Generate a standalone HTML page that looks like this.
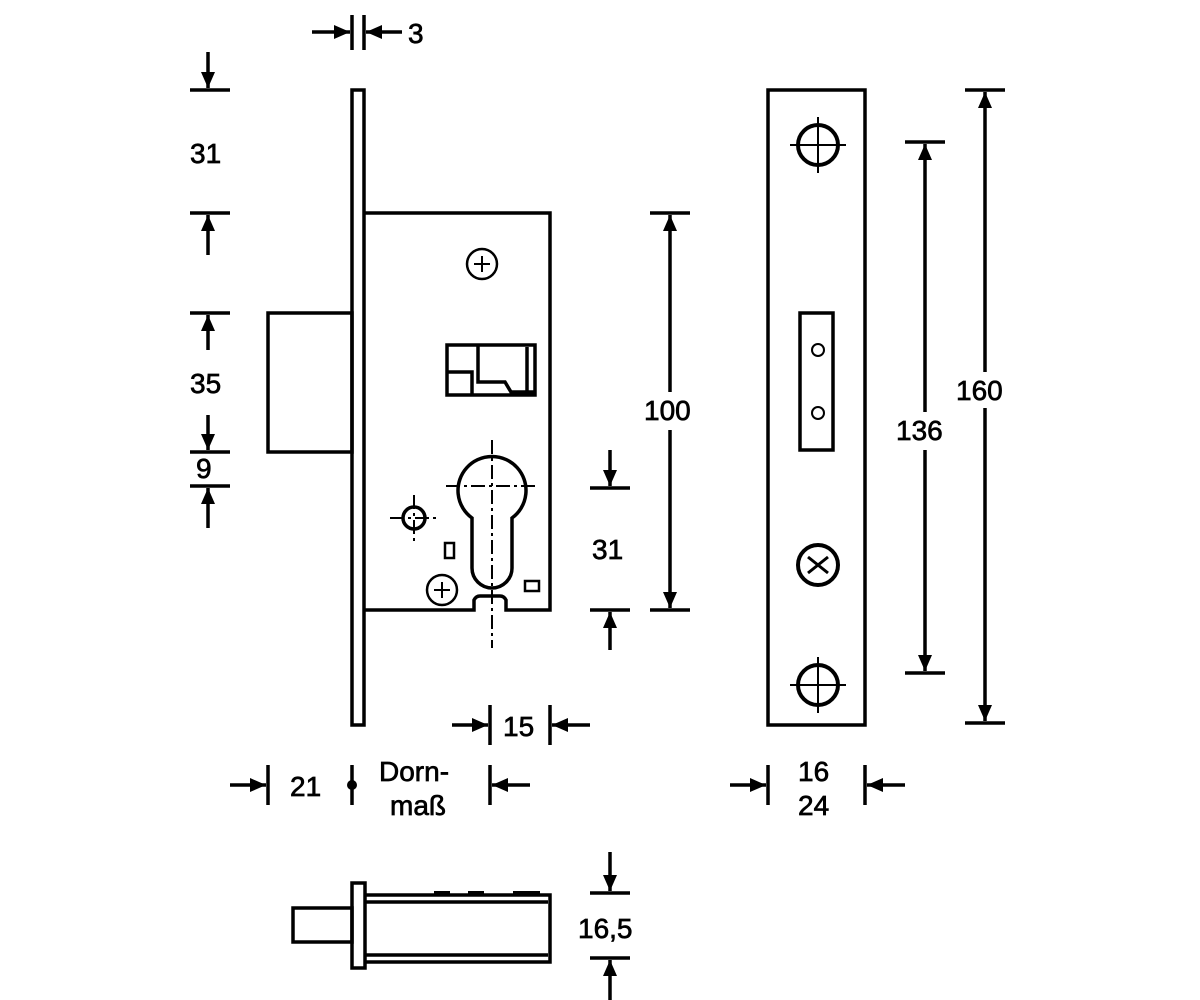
<!DOCTYPE html>
<html><head><meta charset="utf-8"><style>
html,body{margin:0;padding:0;background:#fff;}
svg{display:block;}
text{font-family:"Liberation Sans",Arial,sans-serif;font-size:28px;fill:#000;stroke:#000;stroke-width:0.7;}
</style></head><body>
<svg width="1200" height="1000" viewBox="0 0 1200 1000" xmlns="http://www.w3.org/2000/svg">
<defs>
<marker id="a" markerUnits="userSpaceOnUse" markerWidth="16" markerHeight="14" refX="16" refY="7" orient="auto"><path d="M0,0 L16,7 L0,14 z" fill="#000"/></marker>
</defs>
<g stroke="#000" stroke-width="3.5" fill="none">
<rect x="352" y="90" width="12" height="635"/>
<path d="M364,213 H550 V610 H506 V600 Q504,596 500,596 H480 Q476,596 474,600 V610 H364"/>
<rect x="268" y="313" width="84" height="139"/>
<path d="M447,345 H535 V395 H447 Z M447,372 H472 V395 M478,345 V382 H505 L511,392 H535 M527,347 V393"/>
<path d="M472,518 A34,34 0 1,1 512,518 V568 A20,20 0 0,1 472,568 Z"/>
<circle cx="414" cy="518" r="11"/>
<rect x="445" y="543" width="9" height="15" stroke-width="2.5"/>
<rect x="525" y="581" width="14" height="10" stroke-width="2.5"/>
<circle cx="482" cy="264" r="15" stroke-width="2.5"/>
<circle cx="442" cy="590" r="15" stroke-width="2.5"/>
<rect x="768" y="90" width="97" height="635"/>
<rect x="800" y="313" width="33" height="137"/>
<circle cx="818" cy="350" r="6" stroke-width="2"/>
<circle cx="818" cy="413" r="6" stroke-width="2"/>
<circle cx="818" cy="145" r="20" stroke-width="4"/>
<circle cx="818" cy="565" r="20" stroke-width="4"/>
<circle cx="818" cy="685" r="20" stroke-width="4"/>
<rect x="293" y="908" width="59" height="34"/>
<rect x="352" y="883" width="13" height="85"/>
<path d="M365,895 H550 V962 H365 M365,902 H548 M365,955 H548"/>
<path d="M434,893 H450 M468,893 H484 M513,893 H540" stroke-width="4"/>
</g>
<g stroke="#000" stroke-width="2" fill="none">
<path d="M482,256 V272 M474,264 H490"/>
<path d="M442,582 V598 M434,590 H450"/>
<path d="M790,145 H846 M818,117 V173 M790,685 H846 M818,657 V713"/>
<path d="M808,557 L828,573 M828,557 L808,573" stroke-width="3"/>
</g>
<g stroke="#000" stroke-width="2" fill="none" stroke-dasharray="14,4,3,4">
<path d="M492,440 V648 M446,486 H536 M390,518 H440 M414,495 V543"/>
</g>
<g stroke="#000" stroke-width="3.5" fill="none">
<path d="M190,90 H230 M190,213 H230 M190,313 H230 M190,452 H230 M190,486 H230"/>
<path d="M208,52 V88" marker-end="url(#a)"/>
<path d="M208,255 V215" marker-end="url(#a)"/>
<path d="M208,350 V315" marker-end="url(#a)"/>
<path d="M208,415 V450" marker-end="url(#a)"/>
<path d="M208,528 V488" marker-end="url(#a)"/>
<path d="M352,15 V50 M364,15 V50"/>
<path d="M312,32 H350" marker-end="url(#a)"/>
<path d="M402,32 H366" marker-end="url(#a)"/>
<path d="M650,213 H690 M650,610 H690"/>
<path d="M670,392 V215" marker-end="url(#a)"/>
<path d="M670,430 V608" marker-end="url(#a)"/>
<path d="M590,488 H630 M590,610 H630"/>
<path d="M610,450 V486" marker-end="url(#a)"/>
<path d="M610,650 V612" marker-end="url(#a)"/>
<path d="M905,142 H945 M905,673 H945"/>
<path d="M925,412 V144" marker-end="url(#a)"/>
<path d="M925,450 V671" marker-end="url(#a)"/>
<path d="M965,90 H1005 M965,723 H1005"/>
<path d="M985,372 V92" marker-end="url(#a)"/>
<path d="M985,408 V721" marker-end="url(#a)"/>
<path d="M490,705 V745 M550,705 V745"/>
<path d="M452,725 H488" marker-end="url(#a)"/>
<path d="M590,725 H552" marker-end="url(#a)"/>
<path d="M268,765 V805 M352,765 V805 M490,765 V805"/>
<path d="M230,785 H266" marker-end="url(#a)"/>
<path d="M530,785 H492" marker-end="url(#a)"/>
<path d="M768,765 V805 M865,765 V805"/>
<path d="M730,785 H766" marker-end="url(#a)"/>
<path d="M905,785 H867" marker-end="url(#a)"/>
<path d="M590,893 H630 M590,958 H630"/>
<path d="M610,852 V891" marker-end="url(#a)"/>
<path d="M610,1000 V960" marker-end="url(#a)"/>
</g>
<circle cx="352" cy="785" r="5" fill="#000"/>
<text x="190" y="163">31</text>
<text x="190" y="393">35</text>
<text x="196" y="478">9</text>
<text x="408" y="43">3</text>
<text x="644" y="420">100</text>
<text x="592" y="559">31</text>
<text x="896" y="440">136</text>
<text x="956" y="400">160</text>
<text x="503" y="736">15</text>
<text x="290" y="796">21</text>
<text x="379" y="781">Dorn-</text>
<text x="390" y="815">maß</text>
<text x="798" y="781">16</text>
<text x="798" y="815">24</text>
<text x="578" y="938">16,5</text>
</svg>
</body></html>
